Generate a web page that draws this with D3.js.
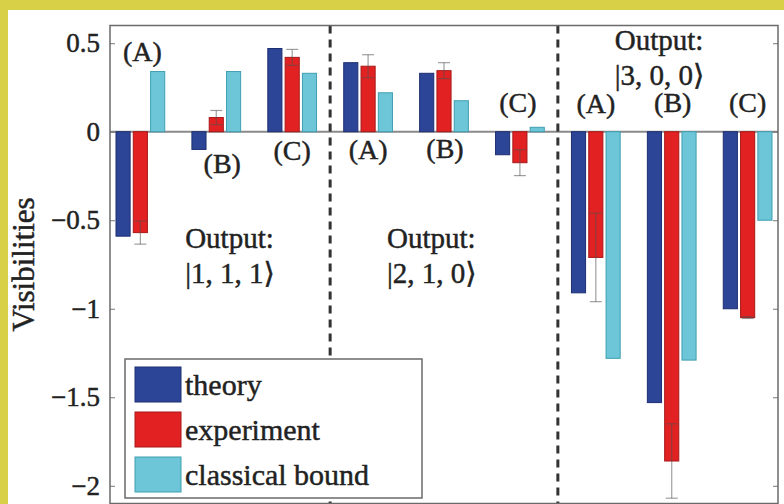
<!DOCTYPE html>
<html>
<head>
<meta charset="utf-8">
<script src="https://cdn.jsdelivr.net/npm/d3@7"></script>
<style>
  html, body { margin: 0; padding: 0; background: #fff; }
  svg text { font-family: "Liberation Serif", "Times New Roman", "DejaVu Serif", serif; fill: #222; stroke: #222; stroke-width: 0.45px; }
</style>
</head>
<body>
<div id="chart"></div>
<script>
// data
const groupLabels = ["(A)", "(B)", "(C)", "(A)", "(B)", "(C)", "(A)", "(B)", "(C)"];
const theory = [-0.59, -0.10, 0.47, 0.39, 0.33, -0.13, -0.91, -1.53, -1.00];
const experiment = [-0.57, 0.08, 0.42, 0.37, 0.345, -0.175, -0.71, -1.86, -1.05];
const experimentErr = [0.065, 0.04, 0.045, 0.065, 0.045, 0.073, 0.25, 0.21, 0.005];
const classical = [0.34, 0.34, 0.33, 0.22, 0.175, 0.025, -1.28, -1.29, -0.50];
const seriesNames = ["theory", "experiment", "classical bound"];
const outputStates = ["|1, 1, 1\u27E9", "|2, 1, 0\u27E9", "|3, 0, 0\u27E9"];
const yTicks = [0.5, 0, -0.5, -1, -1.5, -2];

const colors = ["#2c4596", "#e22222", "#6cc6d7"];
const edges = ["#1e2f72", "#a81818", "#3f9fb1"];

const W = 784, H = 504;
const plot = { left: 110, right: 778, top: 25.5, bottom: 503.5 };

const svg = d3.select("#chart").append("svg")
  .attr("width", W)
  .attr("height", H);

// yellow frame
svg.append("rect").attr("width", W).attr("height", H).attr("fill", "#d8d046");
svg.append("rect").attr("x", 8).attr("y", 10).attr("width", W - 8).attr("height", H - 10).attr("fill", "#fff");

const x = d3.scaleLinear().domain([0.6, 9.4]).range([plot.left, plot.right]);
const y = d3.scaleLinear().domain([0.6, -2.1]).range([plot.top, plot.bottom]);

const barOffset = 0.228, barWidth = 0.186;
const bw = x(barWidth) - x(0);

const series = [theory, experiment, classical];

// zero line
svg.append("line")
  .attr("x1", plot.left).attr("x2", plot.right)
  .attr("y1", y(0)).attr("y2", y(0))
  .attr("stroke", "#8a8a8a").attr("stroke-width", 2);

// bars
series.forEach((vals, s) => {
  svg.append("g").selectAll("rect")
    .data(vals)
    .enter().append("rect")
    .attr("x", (d, i) => x(i + 1 + (s - 1) * barOffset) - bw / 2)
    .attr("y", d => y(Math.max(0, d)))
    .attr("width", bw)
    .attr("height", d => Math.abs(y(d) - y(0)))
    .attr("fill", colors[s])
    .attr("stroke", edges[s])
    .attr("stroke-width", 1);
});

// error bars on experiment
const err = svg.append("g")
  .attr("stroke", "#505050")
  .attr("stroke-opacity", 0.55)
  .attr("stroke-width", 1.2);
experiment.forEach((v, i) => {
  const cx = x(i + 1);
  const lo = y(v - experimentErr[i]), hi = y(v + experimentErr[i]);
  err.append("line").attr("x1", cx).attr("x2", cx).attr("y1", lo).attr("y2", hi);
  err.append("line").attr("x1", cx - 6).attr("x2", cx + 6).attr("y1", lo).attr("y2", lo);
  err.append("line").attr("x1", cx - 6).attr("x2", cx + 6).attr("y1", hi).attr("y2", hi);
});

// separators
[3.5, 6.5].forEach(v => {
  svg.append("line")
    .attr("x1", x(v)).attr("x2", x(v))
    .attr("y1", plot.top).attr("y2", plot.bottom)
    .attr("stroke", "#333").attr("stroke-width", 3)
    .attr("stroke-dasharray", "8,6");
});

// axes
const fmt = d => d < 0 ? "\u2212" + Math.abs(d) : String(d);
const yAxis = svg.append("g")
  .attr("transform", `translate(${plot.left},0)`)
  .call(d3.axisLeft(y).tickValues(yTicks).tickFormat(fmt).tickSizeInner(-5).tickSizeOuter(0).tickPadding(10));
yAxis.select(".domain").remove();
yAxis.selectAll("line").attr("stroke", "#777");
yAxis.selectAll("text").style("font-size", "27px").attr("fill", "#222");

const yAxisR = svg.append("g")
  .attr("transform", `translate(${plot.right},0)`)
  .call(d3.axisRight(y).tickValues(yTicks).tickFormat("").tickSizeInner(-5).tickSizeOuter(0));
yAxisR.select(".domain").remove();
yAxisR.selectAll("line").attr("stroke", "#777");

svg.append("rect")
  .attr("x", plot.left).attr("y", plot.top)
  .attr("width", plot.right - plot.left).attr("height", plot.bottom - plot.top)
  .attr("fill", "none").attr("stroke", "#6a6a6a").attr("stroke-width", 1.5);

svg.append("text")
  .attr("transform", `translate(34,${(plot.top + plot.bottom) / 2}) rotate(-90)`)
  .attr("text-anchor", "middle")
  .style("font-size", "31px")
  .text("Visibilities");

// (A)/(B)/(C) labels
const labelLevel = [0.40, -0.235, -0.16, -0.155, -0.15, 0.11, 0.105, 0.11, 0.11];
const labelDx = [2, 6, 0, 0, 1, -2, 0, 1, 0];
svg.append("g").selectAll("text")
  .data(groupLabels)
  .enter().append("text")
  .attr("x", (d, i) => x(i + 1) + labelDx[i])
  .attr("y", (d, i) => y(labelLevel[i]))
  .attr("text-anchor", "middle")
  .style("font-size", "28px")
  .text(d => d);

// Output annotations
const outX = [1.59, 4.25, 7.25];
const outY = [-0.658, -0.658, 0.462];
outputStates.forEach((s, k) => {
  svg.append("text")
    .attr("x", x(outX[k])).attr("y", y(outY[k]))
    .style("font-size", "29px")
    .text("Output:");
  svg.append("text")
    .attr("x", x(outX[k])).attr("y", y(outY[k] - 0.198))
    .style("font-size", "29px")
    .text(s);
});

// legend
const lg = svg.append("g");
lg.append("rect")
  .attr("x", 125).attr("y", 359).attr("width", 297).attr("height", 139)
  .attr("fill", "#fff").attr("stroke", "#6a6a6a").attr("stroke-width", 1.5);
seriesNames.forEach((name, s) => {
  const top = 367 + s * 45;
  lg.append("rect")
    .attr("x", 135).attr("y", top).attr("width", 46).attr("height", 35)
    .attr("fill", colors[s]).attr("stroke", edges[s]).attr("stroke-width", 1);
  lg.append("text")
    .attr("x", 185).attr("y", top + 28)
    .style("font-size", "30px")
    .text(name);
});
</script>
</body>
</html>
